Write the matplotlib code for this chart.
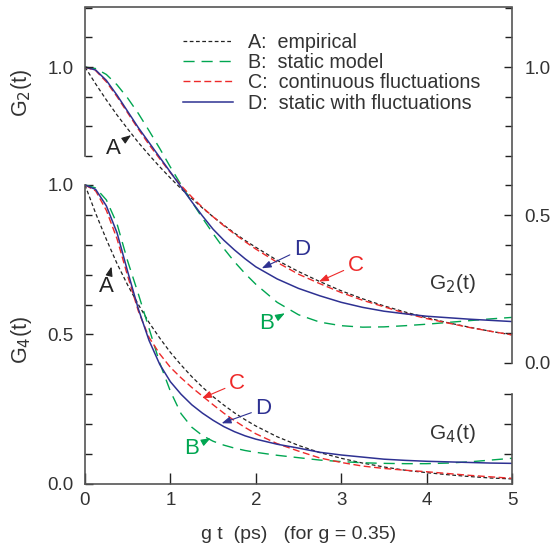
import matplotlib
matplotlib.use("Agg")
import matplotlib.pyplot as plt
from matplotlib.lines import Line2D
from matplotlib.ticker import FixedLocator, FixedFormatter, NullFormatter

plt.rcParams['font.family'] = ['Liberation Sans', 'DejaVu Sans']

# time axis (g t, ps)
t = [0, 0.125, 0.25, 0.375, 0.5, 0.625, 0.75, 0.875, 1.0, 1.125, 1.25, 1.375,
     1.5, 1.625, 1.75, 1.875, 2.0, 2.25, 2.5, 2.75, 3.0, 3.25, 3.5, 3.75,
     4.0, 4.25, 4.5, 4.75, 5.0]

# G2(t) curves (right axis)
g2_a = [1.0, 0.943, 0.889, 0.838, 0.791, 0.745, 0.703, 0.663, 0.625, 0.589, 0.556, 0.524,
        0.494, 0.466, 0.439, 0.414, 0.391, 0.347, 0.309, 0.275, 0.244, 0.217, 0.193, 0.172,
        0.153, 0.136, 0.121, 0.107, 0.095]
g2_b = [1.0, 0.995, 0.975, 0.94, 0.895, 0.843, 0.785, 0.725, 0.662, 0.602, 0.545, 0.49,
        0.437, 0.387, 0.342, 0.302, 0.266, 0.205, 0.163, 0.138, 0.126, 0.121, 0.122, 0.126,
        0.131, 0.137, 0.143, 0.149, 0.154]
g2_c = [1.0, 0.988, 0.95, 0.9, 0.845, 0.79, 0.738, 0.69, 0.643, 0.6, 0.561, 0.526,
        0.494, 0.464, 0.436, 0.41, 0.385, 0.34, 0.30, 0.268, 0.238, 0.212, 0.19, 0.168,
        0.15, 0.135, 0.12, 0.107, 0.095]
g2_d = [1.0, 0.99, 0.955, 0.905, 0.85, 0.795, 0.745, 0.695, 0.645, 0.595, 0.545, 0.497,
        0.452, 0.415, 0.382, 0.352, 0.325, 0.284, 0.252, 0.227, 0.205, 0.188, 0.175, 0.166,
        0.158, 0.153, 0.148, 0.144, 0.140]

# G4(t) curves (left axis)
g4_a = [1.0, 0.905, 0.818, 0.737, 0.665, 0.6, 0.54, 0.488, 0.44, 0.398, 0.359, 0.324,
        0.292, 0.264, 0.238, 0.215, 0.194, 0.158, 0.129, 0.105, 0.086, 0.07, 0.057, 0.046,
        0.038, 0.031, 0.025, 0.02, 0.017]
g4_b = [1.0, 0.99, 0.95, 0.87, 0.745, 0.635, 0.52, 0.405, 0.31, 0.235, 0.19, 0.162,
        0.143, 0.13, 0.12, 0.112, 0.106, 0.096, 0.088, 0.08, 0.075, 0.071, 0.069, 0.068,
        0.068, 0.07, 0.074, 0.08, 0.086]
g4_c = [1.0, 0.98, 0.915, 0.82, 0.695, 0.578, 0.49, 0.435, 0.39, 0.355, 0.323, 0.294,
        0.265, 0.237, 0.212, 0.189, 0.168, 0.135, 0.11, 0.087, 0.072, 0.06, 0.052, 0.046,
        0.041, 0.035, 0.029, 0.024, 0.019]
g4_d = [1.0, 0.985, 0.93, 0.84, 0.71, 0.585, 0.48, 0.40, 0.342, 0.3, 0.265, 0.237,
        0.213, 0.192, 0.175, 0.161, 0.15, 0.133, 0.12, 0.106, 0.097, 0.09, 0.083, 0.079,
        0.076, 0.074, 0.072, 0.07, 0.069]

legend_labels = ["A:  empirical", "B:  static model",
                 "C:  continuous fluctuations", "D:  static with fluctuations"]

black = "#222222"
green = "#00a651"
red = "#ee2a2a"
blue = "#2e3192"
spine_c = "#555555"
text_c = "#333333"

styles = [dict(color=black, lw=0.9, dashes=(3, 2)),
          dict(color=green, lw=1.0, dashes=(8, 5)),
          dict(color=red, lw=1.0, dashes=(5, 2.5)),
          dict(color=blue, lw=1.1, linestyle='-')]

fig = plt.figure(figsize=(5.53, 5.46), dpi=100)
ax4 = fig.add_axes([85 / 553, 62 / 546, 427 / 553, 477 / 546])
ax4.set_xlim(0, 5)
ax4.set_ylim(0, 1.595)
ax2 = ax4.twinx()
ax2.set_ylim(-0.409, 1.203)
ax3 = ax4.twinx()
ax3.set_ylim(0, 1.595)
ax5 = ax4.twinx()
ax5.set_ylim(-0.409, 1.203)


def spine_axis(ax, side, lo, hi, major, minor, labels, pad):
    for s in ax.spines.values():
        s.set_visible(False)
    sp = ax.spines[side]
    sp.set_visible(True)
    sp.set_bounds(lo, hi)
    sp.set_color(spine_c)
    sp.set_linewidth(1.2)
    ax.yaxis.set_ticks_position(side)
    ax.yaxis.set_label_position(side)
    ax.yaxis.set_major_locator(FixedLocator(major))
    ax.yaxis.set_minor_locator(FixedLocator(minor))
    if labels:
        ax.yaxis.set_major_formatter(FixedFormatter(labels))
    else:
        ax.yaxis.set_major_formatter(NullFormatter())
    ax.yaxis.set_minor_formatter(NullFormatter())
    ax.tick_params(axis='y', which='major', direction='in', length=6,
                   width=1, color='#222222', labelsize=13.5, labelcolor=text_c, pad=pad)
    ax.tick_params(axis='y', which='minor', direction='in', length=5,
                   width=1, color='#222222')


spine_axis(ax4, 'left', 0, 1.0, [0, 0.5, 1.0],
           [0.1, 0.2, 0.3, 0.4, 0.6, 0.7, 0.8, 0.9], ['0.0', '0.5', '1.0'], 8)
spine_axis(ax2, 'right', 0, 1.2, [0, 0.5, 1.0],
           [0.1, 0.2, 0.3, 0.4, 0.6, 0.7, 0.8, 0.9, 1.1, 1.2], ['0.0', '0.5', '1.0'], 9)
spine_axis(ax3, 'right', 0, 0.3, [0.1, 0.2, 0.3], [], None, 9)
spine_axis(ax5, 'left', 0.7, 1.2, [1.0], [0.7, 0.8, 0.9, 1.1, 1.2], ['1.0'], 8)

for side in ('bottom', 'top'):
    ax4.spines[side].set_visible(True)
    ax4.spines[side].set_color(spine_c)
    ax4.spines[side].set_linewidth(1.2)
ax4.set_xticks([0, 1, 2, 3, 4, 5])
ax4.tick_params(axis='x', direction='in', length=8, width=1, color='#222222',
                labelsize=13.5, labelcolor=text_c, pad=6, top=False)
ax4.set_xlabel("g t  (ps)   (for g = 0.35)", fontsize=14, color=text_c, labelpad=12)

# curves
for ys, st in zip([g4_a, g4_b, g4_c, g4_d], styles):
    ax4.plot(t, ys, **st)
for ys, st in zip([g2_a, g2_b, g2_c, g2_d], styles):
    ax2.plot(t, ys, **st)

# axis titles
fig.text(21 / 553, 1 - 93 / 546, "G$_2$(t)", rotation=90, fontsize=15.5,
         color=text_c, ha='center', va='center')
fig.text(21 / 553, 1 - 340 / 546, "G$_4$(t)", rotation=90, fontsize=15.5,
         color=text_c, ha='center', va='center')
ax2.text(4.3, 0.27, "G$_2$(t)", fontsize=15, color=text_c, ha='center', va='center')
ax4.text(4.3, 0.17, "G$_4$(t)", fontsize=15, color=text_c, ha='center', va='center')


def tag(ax, letter, color, txt_xy, tip_xy):
    ax.annotate(letter, xy=tip_xy, xytext=txt_xy, fontsize=16, color=color,
                ha='center', va='center',
                arrowprops=dict(arrowstyle='-|>,head_length=0.35,head_width=0.13',
                                color=color, lw=0.8, shrinkA=1, shrinkB=0))


tag(ax2, "A", black, (0.33, 0.726), (0.54, 0.77))
tag(ax2, "D", blue, (2.54, 0.385), (2.07, 0.32))
tag(ax2, "C", red, (3.17, 0.331), (2.74, 0.275))
tag(ax2, "B", green, (2.13, 0.134), (2.34, 0.168))
tag(ax4, "A", black, (0.25, 0.66), (0.31, 0.727))
tag(ax4, "C", red, (1.78, 0.337), (1.37, 0.287))
tag(ax4, "D", blue, (2.09, 0.253), (1.6, 0.203))
tag(ax4, "B", green, (1.25, 0.119), (1.47, 0.153))

handles = [Line2D([], [], **st) for st in styles]
ax2.legend(handles, legend_labels, loc='upper left', frameon=False, fontsize=14.2,
           bbox_to_anchor=(183 / 553, 1 - 33 / 546), bbox_transform=fig.transFigure,
           borderpad=0, borderaxespad=0, handlelength=2.55, handletextpad=0.75,
           labelspacing=0.06, labelcolor=text_c)

fig.savefig("out.png", dpi=100)
